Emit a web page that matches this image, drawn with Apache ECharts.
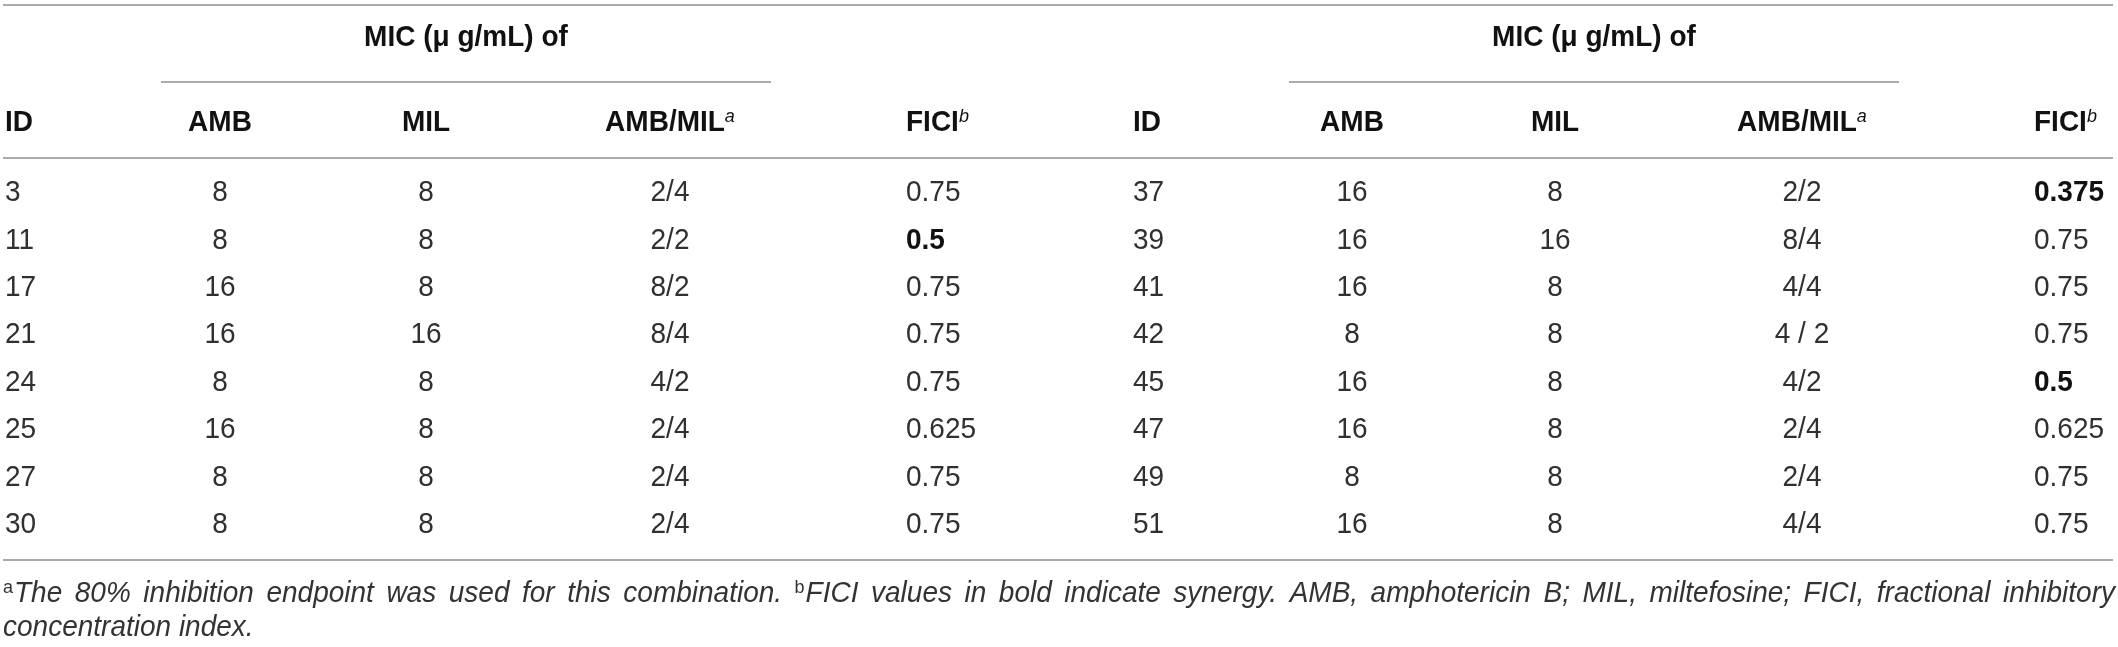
<!DOCTYPE html>
<html>
<head>
<meta charset="utf-8">
<script src="https://cdn.jsdelivr.net/npm/echarts@6/dist/echarts.min.js"></script>
<style>
  html, body { margin: 0; padding: 0; background: #fff; }
  #chart { width: 2118px; height: 647px; }
</style>
</head>
<body>
<div id="chart"></div>
<script>
// left half of the table
const ids1 = ['3', '11', '17', '21', '24', '25', '27', '30']
const amb1 = ['8', '8', '16', '16', '8', '16', '8', '8']
const mil1 = ['8', '8', '8', '16', '8', '8', '8', '8']
const combo1 = ['2/4', '2/2', '8/2', '8/4', '4/2', '2/4', '2/4', '2/4']
const fici1 = ['0.75', '0.5', '0.75', '0.75', '0.75', '0.625', '0.75', '0.75']

// right half of the table
const ids2 = ['37', '39', '41', '42', '45', '47', '49', '51']
const amb2 = ['16', '16', '16', '8', '16', '16', '8', '16']
const mil2 = ['8', '16', '8', '8', '8', '8', '8', '8']
const combo2 = ['2/2', '8/4', '4/4', '4 / 2', '4/2', '2/4', '2/4', '4/4']
const fici2 = ['0.375', '0.75', '0.75', '0.75', '0.5', '0.625', '0.75', '0.75']

const headers = ['ID', 'AMB', 'MIL', 'AMB/MIL', 'FICI']
const headerSup = ['', '', '', 'a', 'b']
const groupTitle = 'MIC (\u03bc g/mL) of'
const footnoteWords = [
  ['a', 'The'], '80%', 'inhibition', 'endpoint', 'was', 'used', 'for', 'this', 'combination.',
  ['b', 'FICI'], 'values', 'in', 'bold', 'indicate', 'synergy.', 'AMB,', 'amphotericin', 'B;',
  'MIL,', 'miltefosine;', 'FICI,', 'fractional', 'inhibitory'
]
const footnoteEnd = 'concentration index.'

// layout
const W = 2118
const colX = [[5, 220, 426, 670, 906], [1133, 1352, 1555, 1802, 2034]]
const colAlign = ['left', 'center', 'center', 'center', 'left']
const groupX = [466, 1594]
const groupLine = [[161, 771], [1289, 1899]]
const FONT = '"Liberation Sans", Arial, sans-serif'
const STRETCH = 1.05
const INK = '#303030'
const RULE = '#8f8f8f'

const halves = [[ids1, amb1, mil1, combo1, fici1], [ids2, amb2, mil2, combo2, fici2]]
const cells = []
halves.forEach((cols, h) => {
  cols.forEach((vals, c) => {
    vals.forEach((t, r) => {
      cells.push({
        value: [colX[h][c], r],
        text: t,
        align: colAlign[c],
        bold: c === 4 && parseFloat(t) <= 0.5
      })
    })
  })
})

const graphics = []
const rule = (x1, x2, y) => graphics.push({
  type: 'line', shape: { x1, y1: y, x2, y2: y },
  style: { stroke: RULE, lineWidth: 1.5 }, silent: true
})
rule(3, 2113, 5)
rule(3, 2113, 158)
rule(3, 2113, 560)

for (let h = 0; h < 2; h++) {
  rule(groupLine[h][0], groupLine[h][1], 82)
  graphics.push({
    type: 'text', x: groupX[h], y: 38, scaleY: STRETCH,
    style: {
      text: groupTitle, fill: '#111', fontFamily: FONT, fontWeight: 'bold', fontSize: 28,
      align: 'center', verticalAlign: 'middle'
    }
  })
  headers.forEach((name, c) => {
    graphics.push({
      type: 'text', x: colX[h][c], y: 123, scaleY: STRETCH,
      style: {
        text: '{b|' + name + '}' + (headerSup[c] ? '{s|' + headerSup[c] + '}' : ''),
        align: colAlign[c], verticalAlign: 'middle',
        rich: {
          b: { fontFamily: FONT, fontWeight: 'bold', fontSize: 28, fill: '#111', lineHeight: 30 },
          s: { fontFamily: FONT, fontStyle: 'italic', fontSize: 18, fill: '#111', verticalAlign: 'top', lineHeight: 30 }
        }
      }
    })
  })
}

// footnote, first line justified across the page
const ctx = document.createElement('canvas').getContext('2d')
const itFont = 'italic 28px ' + FONT
const supFont = '18px ' + FONT
const measure = (t, f) => { ctx.font = f; return ctx.measureText(t).width }
const widths = footnoteWords.map(w => Array.isArray(w)
  ? measure(w[0], supFont) + 1 + measure(w[1], itFont)
  : measure(w, itFont))
const total = widths.reduce((a, b) => a + b, 0)
const gap = (W - 6 - total) / (footnoteWords.length - 1)
let fx = 3
footnoteWords.forEach((w, i) => {
  if (Array.isArray(w)) {
    graphics.push({
      type: 'text', x: fx, y: 594, scaleY: STRETCH,
      style: {
        text: '{s|' + w[0] + '}{i|' + w[1] + '}', verticalAlign: 'middle', align: 'left',
        rich: {
          s: { fontFamily: FONT, fontSize: 18, fill: '#333', verticalAlign: 'top', lineHeight: 30, padding: [0, 1, 0, 0] },
          i: { fontFamily: FONT, fontStyle: 'italic', fontSize: 28, fill: '#333', lineHeight: 30 }
        }
      }
    })
  } else {
    graphics.push({
      type: 'text', x: fx, y: 594, scaleY: STRETCH,
      style: { text: w, fontFamily: FONT, fontStyle: 'italic', fontSize: 28, fill: '#333', verticalAlign: 'middle' }
    })
  }
  fx += widths[i] + gap
})
graphics.push({
  type: 'text', x: 3, y: 628, scaleY: STRETCH,
  style: { text: footnoteEnd, fontFamily: FONT, fontStyle: 'italic', fontSize: 28, fill: '#333', verticalAlign: 'middle' }
})

const chart = echarts.init(document.getElementById('chart'))
chart.setOption({
  animation: false,
  grid: { left: 0, right: 0, top: 169.3, bottom: 98.3 },
  xAxis: { type: 'value', min: 0, max: W, show: false },
  yAxis: { type: 'category', data: ids1, inverse: true, show: false },
  graphic: { elements: graphics },
  series: [{
    type: 'custom',
    data: cells.map(d => d.value),
    renderItem: (params, api) => {
      const d = cells[params.dataIndex]
      const p = api.coord([api.value(0), api.value(1)])
      return {
        type: 'text', x: p[0], y: p[1], scaleY: STRETCH,
        style: {
          text: d.text, fill: d.bold ? '#111' : INK, fontFamily: FONT,
          fontWeight: d.bold ? 'bold' : 'normal', fontSize: 28,
          align: d.align, verticalAlign: 'middle'
        }
      }
    }
  }]
})
window.addEventListener('resize', () => chart.resize())
</script>
</body>
</html>
